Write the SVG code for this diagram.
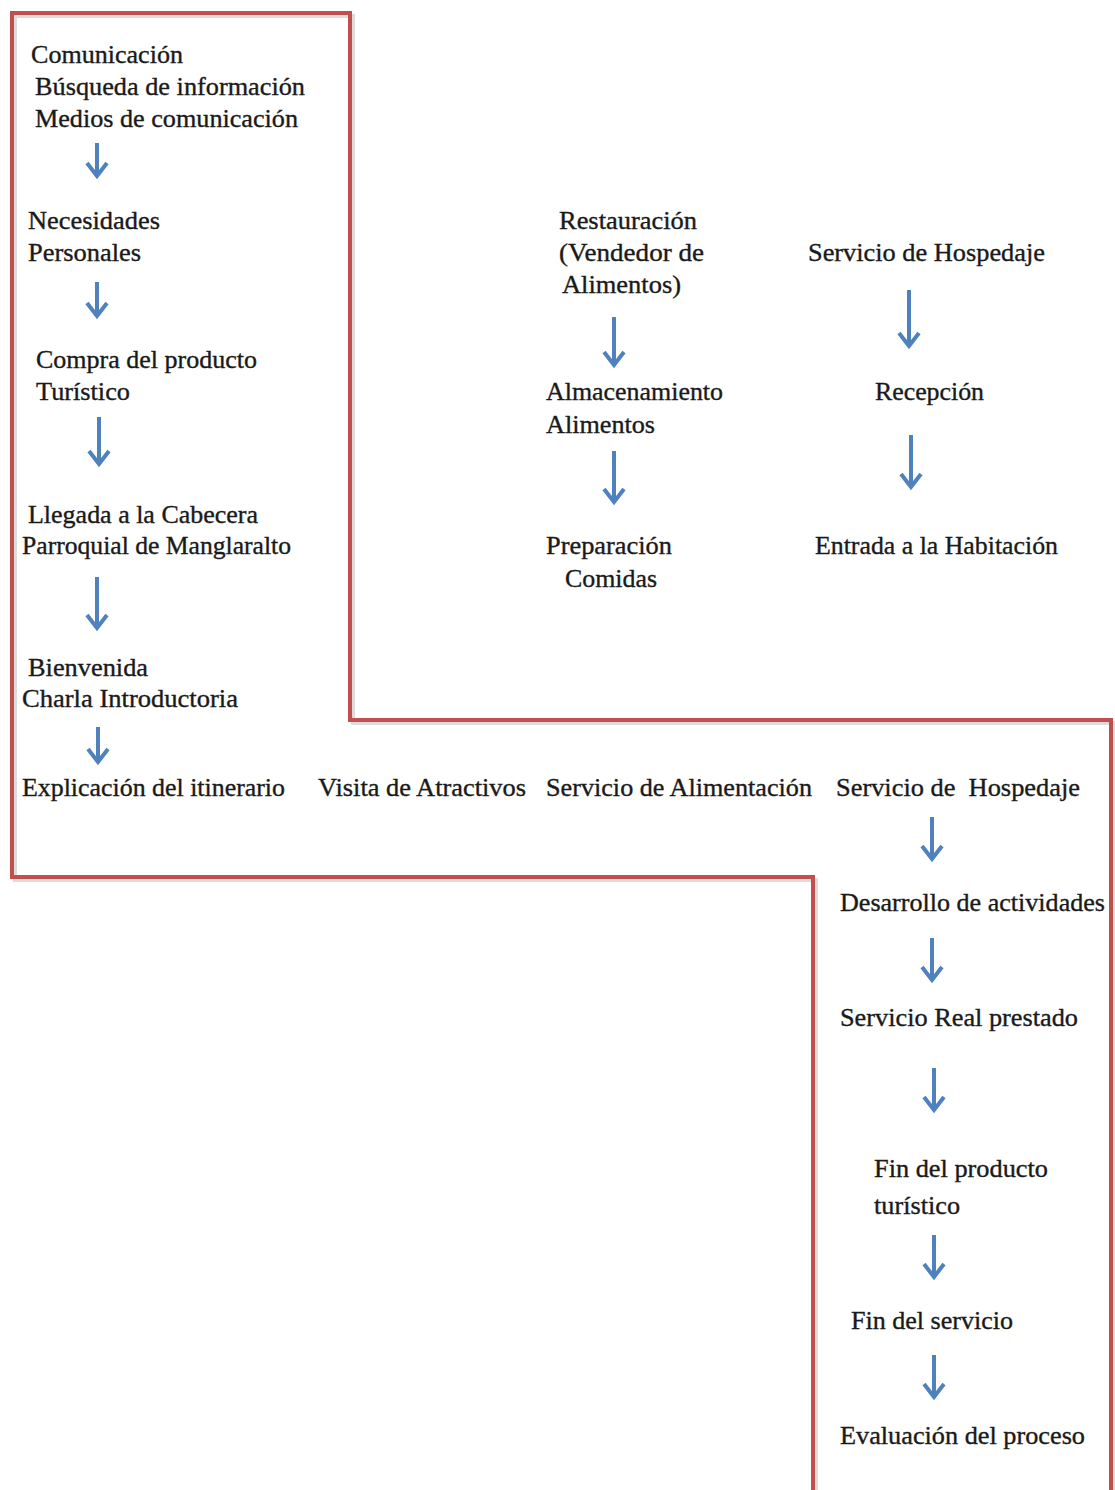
<svg xmlns="http://www.w3.org/2000/svg" width="1115" height="1490" viewBox="0 0 1115 1490">
<style>
text{font-family:"Liberation Serif","Times New Roman","DejaVu Serif",serif;font-size:25px;fill:#1a1a1a;stroke:#1a1a1a;stroke-width:0.35px;white-space:pre;}
.frame{fill:none;stroke:#C0504D;stroke-width:4;stroke-linejoin:miter;}
.shadow{fill:none;stroke:#9a9a9a;stroke-width:4;opacity:0.35;}
.arr{fill:none;stroke:#4F81BD;stroke-width:4;}
.head{fill:none;stroke:#4F81BD;stroke-width:4;stroke-linejoin:miter;}
</style>
<rect width="1115" height="1490" fill="#ffffff"/>
<g id="frame">
<path class="shadow" transform="translate(3,3)" d="M813,1495 V877 H12 V13 H350 V720 H1111 V1495"/>
<path class="frame" d="M813,1495 V877 H12 V13 H350 V720 H1111 V1495"/>
</g>
<g id="connectors">
<path class="arr" d="M97,143 V176"/><path class="head" d="M87,163 L97,176 L107,163"/>
<path class="arr" d="M97,282 V316"/><path class="head" d="M87,303 L97,316 L107,303"/>
<path class="arr" d="M99,417 V464"/><path class="head" d="M89,451 L99,464 L109,451"/>
<path class="arr" d="M97,577 V628"/><path class="head" d="M87,615 L97,628 L107,615"/>
<path class="arr" d="M98,727 V762"/><path class="head" d="M88,749 L98,762 L108,749"/>
<path class="arr" d="M614,317 V365"/><path class="head" d="M604,352 L614,365 L624,352"/>
<path class="arr" d="M614,451 V502"/><path class="head" d="M604,489 L614,502 L624,489"/>
<path class="arr" d="M909,290 V346"/><path class="head" d="M899,333 L909,346 L919,333"/>
<path class="arr" d="M911,435 V487"/><path class="head" d="M901,474 L911,487 L921,474"/>
<path class="arr" d="M932,817 V859"/><path class="head" d="M922,846 L932,859 L942,846"/>
<path class="arr" d="M932,938 V980"/><path class="head" d="M922,967 L932,980 L942,967"/>
<path class="arr" d="M934,1068 V1110"/><path class="head" d="M924,1097 L934,1110 L944,1097"/>
<path class="arr" d="M934,1235 V1277"/><path class="head" d="M924,1264 L934,1277 L944,1264"/>
<path class="arr" d="M934,1355 V1397"/><path class="head" d="M924,1384 L934,1397 L944,1384"/>
</g>
<g id="n-comunicacion">
<text x="31" y="63" textLength="152" lengthAdjust="spacingAndGlyphs">Comunicación</text>
<text x="35" y="95" textLength="270" lengthAdjust="spacingAndGlyphs">Búsqueda de información</text>
<text x="35" y="127" textLength="263" lengthAdjust="spacingAndGlyphs">Medios de comunicación</text>
</g>
<g id="n-necesidades">
<text x="28" y="229" textLength="132" lengthAdjust="spacingAndGlyphs">Necesidades</text>
<text x="28" y="261" textLength="113" lengthAdjust="spacingAndGlyphs">Personales</text>
</g>
<g id="n-compra">
<text x="36" y="368" textLength="221" lengthAdjust="spacingAndGlyphs">Compra del producto</text>
<text x="36" y="400" textLength="94" lengthAdjust="spacingAndGlyphs">Turístico</text>
</g>
<g id="n-llegada">
<text x="28" y="523" textLength="230" lengthAdjust="spacingAndGlyphs">Llegada a la Cabecera</text>
<text x="22" y="554" textLength="269" lengthAdjust="spacingAndGlyphs">Parroquial de Manglaralto</text>
</g>
<g id="n-bienvenida">
<text x="28" y="676" textLength="120" lengthAdjust="spacingAndGlyphs">Bienvenida</text>
<text x="22" y="707" textLength="216" lengthAdjust="spacingAndGlyphs">Charla Introductoria</text>
</g>
<g id="n-explicacion">
<text x="22" y="796" textLength="263" lengthAdjust="spacingAndGlyphs">Explicación del itinerario</text>
</g>
<g id="n-visita">
<text x="318" y="796" textLength="208" lengthAdjust="spacingAndGlyphs">Visita de Atractivos</text>
</g>
<g id="n-alimentacion">
<text x="546" y="796" textLength="266" lengthAdjust="spacingAndGlyphs">Servicio de Alimentación</text>
</g>
<g id="n-hospedaje2">
<text x="836" y="796" textLength="244" lengthAdjust="spacingAndGlyphs">Servicio de  Hospedaje</text>
</g>
<g id="n-restauracion">
<text x="559" y="229" textLength="138" lengthAdjust="spacingAndGlyphs">Restauración</text>
<text x="559" y="261" textLength="145" lengthAdjust="spacingAndGlyphs">(Vendedor de</text>
<text x="562" y="293" textLength="119" lengthAdjust="spacingAndGlyphs">Alimentos)</text>
</g>
<g id="n-almacenamiento">
<text x="546" y="400" textLength="177" lengthAdjust="spacingAndGlyphs">Almacenamiento</text>
<text x="546" y="433" textLength="109" lengthAdjust="spacingAndGlyphs">Alimentos</text>
</g>
<g id="n-preparacion">
<text x="546" y="554" textLength="126" lengthAdjust="spacingAndGlyphs">Preparación</text>
<text x="565" y="587" textLength="92" lengthAdjust="spacingAndGlyphs">Comidas</text>
</g>
<g id="n-hospedaje">
<text x="808" y="261" textLength="237" lengthAdjust="spacingAndGlyphs">Servicio de Hospedaje</text>
</g>
<g id="n-recepcion">
<text x="875" y="400" textLength="109" lengthAdjust="spacingAndGlyphs">Recepción</text>
</g>
<g id="n-entrada">
<text x="815" y="554" textLength="243" lengthAdjust="spacingAndGlyphs">Entrada a la Habitación</text>
</g>
<g id="n-desarrollo">
<text x="840" y="911" textLength="265" lengthAdjust="spacingAndGlyphs">Desarrollo de actividades</text>
</g>
<g id="n-servicio-real">
<text x="840" y="1026" textLength="238" lengthAdjust="spacingAndGlyphs">Servicio Real prestado</text>
</g>
<g id="n-fin-producto">
<text x="874" y="1177" textLength="174" lengthAdjust="spacingAndGlyphs">Fin del producto</text>
<text x="874" y="1214" textLength="86" lengthAdjust="spacingAndGlyphs">turístico</text>
</g>
<g id="n-fin-servicio">
<text x="851" y="1329" textLength="162" lengthAdjust="spacingAndGlyphs">Fin del servicio</text>
</g>
<g id="n-evaluacion">
<text x="840" y="1444" textLength="245" lengthAdjust="spacingAndGlyphs">Evaluación del proceso</text>
</g>
</svg>
